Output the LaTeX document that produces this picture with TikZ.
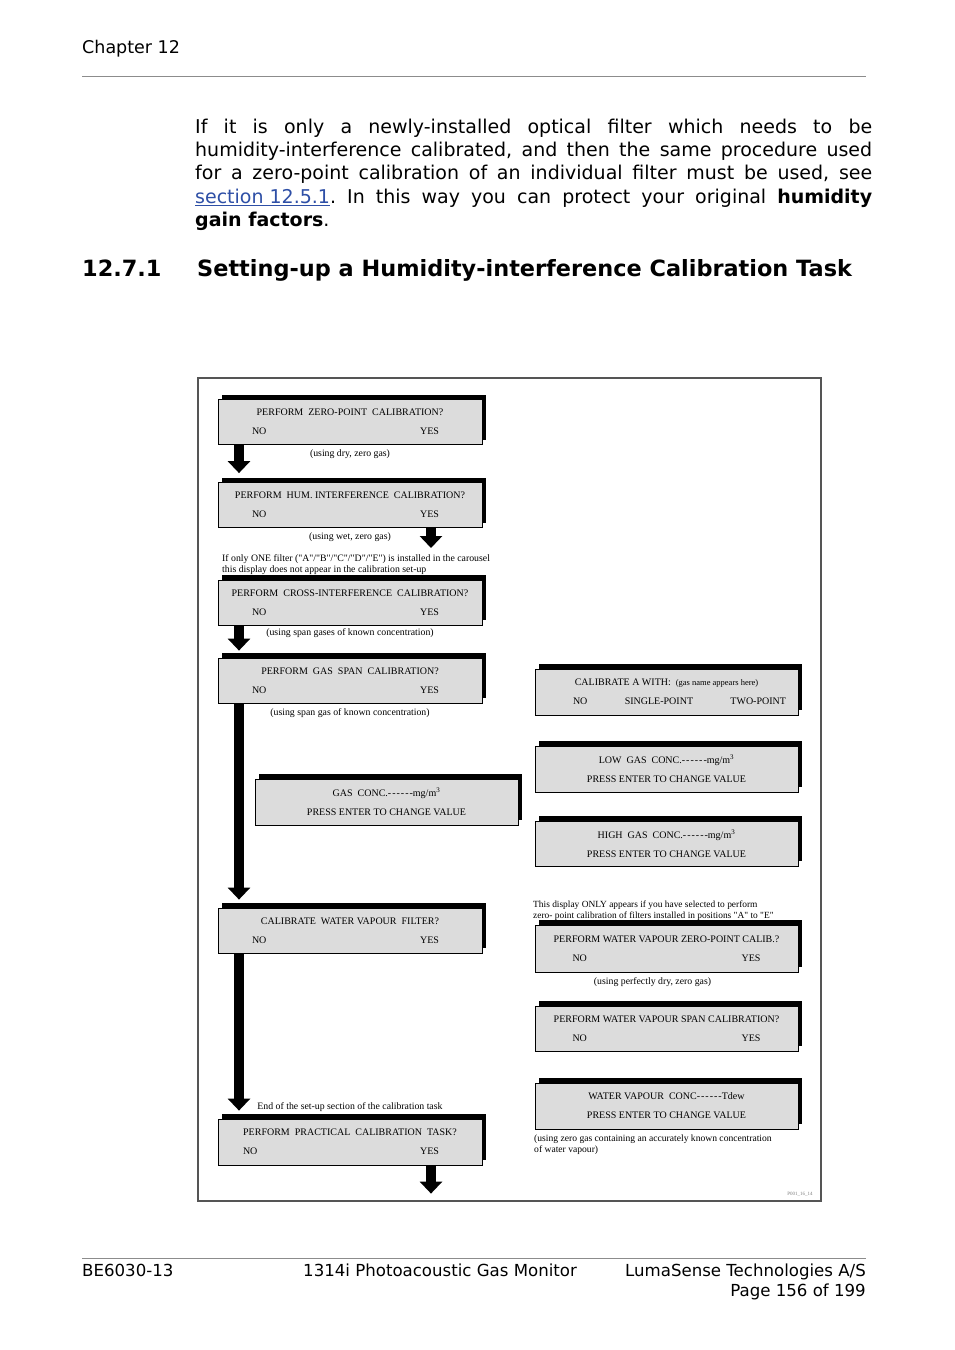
\documentclass[tikz,border=0pt]{standalone}
\usepackage{fontspec}
\setmainfont{DejaVu Sans}
\newfontfamily\figfont{Liberation Serif}
\usetikzlibrary{arrows.meta,positioning,shadows}
\definecolor{panelgray}{HTML}{DCDCDC}
\definecolor{linkblue}{HTML}{2E4FA6}
\definecolor{framegray}{HTML}{555555}
\definecolor{rulegray}{HTML}{8C8C8C}
\newcommand{\dsh}{\mbox{-}\hspace{1pt}\mbox{-}\hspace{1pt}\mbox{-}\hspace{1pt}\mbox{-}\hspace{1pt}\mbox{-}\hspace{1pt}\mbox{-}}
\newcommand{\noyes}[2][0pt]{\makebox[#2]{NO\hfill YES}\hspace*{#1}}
\frenchspacing

\begin{document}
\begin{tikzpicture}[x=1pt, y=-1pt,
  panel/.style={draw=black, line width=0.8pt, fill=panelgray, minimum width=264pt,
                minimum height=45pt, inner sep=0pt, align=center,
                font=\figfont\fontsize{10}{19}\selectfont,
                general shadow={fill=black, shadow xshift=4pt, shadow yshift=5pt}},
  captext/.style={inner sep=0pt, font=\figfont\fontsize{9.8}{11}\selectfont},
  remark/.style={inner sep=0pt, align=left, anchor=north west,
                 font=\figfont\fontsize{9.6}{11}\selectfont},
  bigarr/.style={line width=10pt, -{Triangle[width=22pt, length=12pt]}},
  pagetext/.style={inner sep=0pt, font=\fontsize{16.6}{20}\selectfont},
  pagerule/.style={draw=rulegray, line width=0.8pt}
]
  \useasboundingbox (0,0) rectangle (954,1350);
  \fill[white] (0,0) rectangle (954,1350);

  % page header and text
  \node[pagetext, anchor=base west, font=\fontsize{17.5}{20}\selectfont] (chap) at (82,53) {Chapter 12};
  \draw[pagerule] (82,76) -- (866,76);
  \node[inner sep=0pt, anchor=north west, text width=677pt, align=justify,
        font=\fontsize{19}{23.3}\selectfont] (para) at (195,118.5)
    {If it is only a newly-installed optical filter which needs to be\linebreak
     humidity-interference calibrated, and then the same procedure used\linebreak
     for a zero-point calibration of an individual filter must be used, see\linebreak
     \textcolor{linkblue}{\underline{section 12.5.1}}. In this way you can protect your original \textbf{humidity}\linebreak
     \textbf{gain factors}.};
  \node[inner sep=0pt, anchor=base west, font=\bfseries\fontsize{22.4}{26}\selectfont] (secnum) at (82,276) {12.7.1};
  \node[inner sep=0pt, anchor=base west, font=\bfseries\fontsize{22.4}{26}\selectfont] (sectitle) at (197,276)
    {Setting-up a Humidity-interference Calibration Task};

  % figure frame
  \node[draw=framegray, line width=1.2pt, minimum width=623pt, minimum height=823pt, inner sep=0pt] (fig) at (509.5,789.5) {};
  \coordinate (lx) at (239,0);
  \coordinate (rx) at (431,0);

  % left column
  \node[panel] (zp) at (350,422) {PERFORM\ \ ZERO-POINT\ \ CALIBRATION?\\\noyes[9pt]{187pt}};
  \node[captext, below=5pt of zp] (zpcap) {(using dry, zero gas)};
  \node[panel] (hum) at (350,505) {PERFORM\ \ HUM. INTERFERENCE\ \ CALIBRATION?\\\noyes[9pt]{187pt}};
  \node[captext, below=5pt of hum] (humcap) {(using wet, zero gas)};
  \node[remark, font=\figfont\fontsize{9.8}{11}\selectfont] (hnote) at (222,554)
    {If only ONE filter ("A"/"B"/"C"/"D"/"E") is installed in the carousel\\
     this display does not appear in the calibration set-up};
  \node[panel] (cross) at (350,602.5) {PERFORM\ \ CROSS-INTERFERENCE\ \ CALIBRATION?\\\noyes[9pt]{187pt}};
  \node[captext, below=3pt of cross] (crosscap) {(using span gases of known concentration)};
  \node[panel] (span) at (350,680.5) {PERFORM\ \ GAS\ \ SPAN\ \ CALIBRATION?\\\noyes[9pt]{187pt}};
  \node[captext, below=5pt of span] (spancap) {(using span gas of known concentration)};
  \node[panel, minimum width=263pt, minimum height=46pt] (gasconc) at (386.5,802)
    {GAS\ \ CONC.\dsh mg/m\textsuperscript{3}\\PRESS ENTER TO CHANGE VALUE};
  \node[panel] (wvf) at (350,930.5) {CALIBRATE\ \ WATER VAPOUR\ \ FILTER?\\\noyes[9pt]{187pt}};
  \node[panel, minimum height=46pt] (prac) at (350,1142) {PERFORM\ \ PRACTICAL\ \ CALIBRATION\ \ TASK?\\\noyes[18pt]{196pt}};
  \node[captext, above=7pt of prac] (endnote) {End of the set-up section of the calibration task};

  % right column
  \node[panel, minimum width=263pt, minimum height=46pt] (calA) at (666.5,692)
    {CALIBRATE A WITH:\ \ {\fontsize{8.5}{19}\selectfont(gas name appears here)}\\
     \hspace*{26pt}\makebox[213pt]{NO\hfill SINGLE-POINT\hfill TWO-POINT}};
  \node[panel, minimum width=263pt, minimum height=46pt] (low) at (666.5,769)
    {LOW\ \ GAS\ \ CONC.\dsh mg/m\textsuperscript{3}\\PRESS ENTER TO CHANGE VALUE};
  \node[panel, minimum width=263pt] (high) at (666.5,843.5)
    {HIGH\ \ GAS\ \ CONC.\dsh mg/m\textsuperscript{3}\\PRESS ENTER TO CHANGE VALUE};
  \node[remark, font=\figfont\fontsize{9.4}{11}\selectfont] (wvnote) at (533,901)
    {This display ONLY appears if you have selected to perform\\
     zero- point calibration of filters installed in positions "A" to "E"};
  \node[panel, minimum width=263pt, minimum height=47pt] (wvzero) at (666.5,948.5)
    {PERFORM WATER VAPOUR ZERO-POINT CALIB.?\\\noyes{188pt}};
  \node[captext, below=5pt of wvzero, xshift=-14pt] (wvzcap) {(using perfectly dry, zero gas)};
  \node[panel, minimum width=263pt] (wvspan) at (666.5,1028.5)
    {PERFORM WATER VAPOUR SPAN CALIBRATION?\\\noyes{188pt}};
  \node[panel, minimum width=263pt, minimum height=46pt] (wvconc) at (666.5,1106)
    {WATER VAPOUR\ \ CONC\dsh Tdew\\PRESS ENTER TO CHANGE VALUE};
  \node[remark] (wvcnote) at (534,1135)
    {(using zero gas containing an accurately known concentration\\
     of water vapour)};
  \node[inner sep=0pt, text=gray, font=\figfont\fontsize{5}{6}\selectfont] (figid) at (800,1194) {P001\_16\_14};

  % arrows
  \draw[bigarr, shorten >=9pt] (lx |- zp.south) -- (lx |- hum.north);
  \draw[bigarr, shorten >=6pt] (rx |- hum.south) -- (rx |- hnote.north);
  \draw[bigarr, shorten >=7pt] (lx |- cross.south) -- (lx |- span.north);
  \draw[bigarr, shorten >=8pt] (lx |- span.south) -- (lx |- wvf.north);
  \draw[bigarr, shorten >=8pt] (lx |- wvf.south) -- (lx |- prac.north);
  \draw[bigarr, shorten >=8pt] (rx |- prac.south) -- (rx |- fig.south);

  % page footer
  \draw[pagerule] (82,1258) -- (866,1258);
  \node[pagetext, anchor=base west] (docno) at (82,1276) {BE6030-13};
  \node[pagetext, anchor=base west] (product) at (303,1276) {1314i Photoacoustic Gas Monitor};
  \node[pagetext, anchor=base east] (company) at (866,1276) {LumaSense Technologies A/S};
  \node[pagetext, anchor=base east] (pageno) at (866,1296) {Page 156 of 199};
\end{tikzpicture}
\end{document}
